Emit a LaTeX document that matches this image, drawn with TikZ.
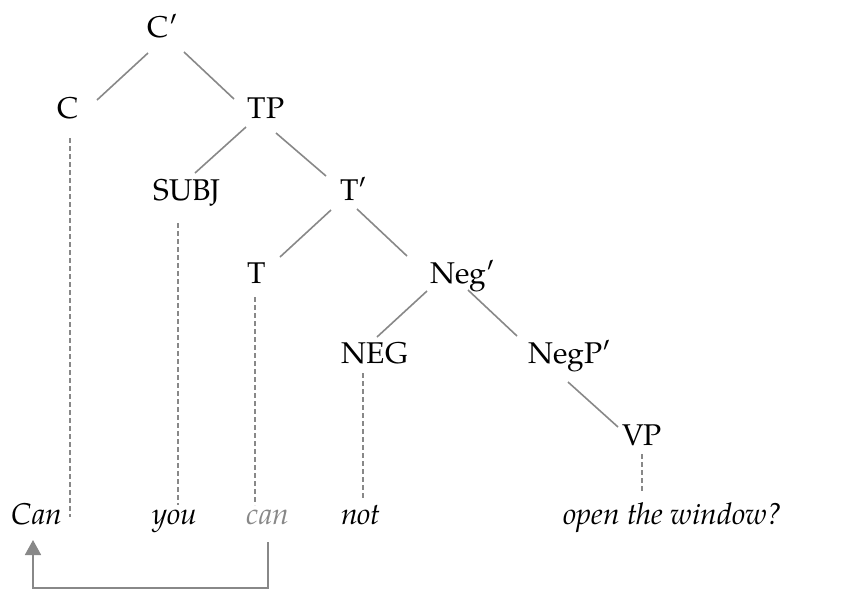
\documentclass[tikz,border=0pt]{standalone}
\usepackage{fontspec}
\setmainfont{TeX Gyre Pagella}
\usetikzlibrary{calc,arrows.meta}
\definecolor{lgray}{HTML}{888888}
\begin{document}
\begin{tikzpicture}[x=1pt,y=-1pt,
  lbl/.style={inner sep=0pt,anchor=base,font=\fontsize{30}{36}\selectfont},
  leaf/.style={lbl,font=\fontsize{30}{36}\selectfont\itshape},
  edge/.style={draw=lgray,line width=1.6pt},
  dline/.style={draw=lgray,line width=1.4pt,dash pattern=on 5pt off 3pt},
  moveline/.style={draw=lgray,line width=1.8pt,-{Triangle[width=16pt,length=15pt]}}]
\path[use as bounding box] (0,0) rectangle (859,590);
% tree nodes
\node[lbl] (Cp) at (163,37) {C′};
\node[lbl] (C) at (68,118) {C};
\node[lbl] (TP) at (266,118) {TP};
\node[lbl] (SUBJ) at (187,200) {SUBJ};
\node[lbl] (Tp) at (354,200) {T′};
\node[lbl] (T) at (257,283) {T};
\node[lbl] (Negp) at (463,283) {Neg′};
\node[lbl] (NEG) at (375,363) {NEG};
\node[lbl] (NegPp) at (570,363) {NegP′};
\node[lbl] (VP) at (642,445) {VP};
% leaves
\node[leaf] (Can) at (37,524) {Can};
\node[leaf] (you) at (175,524) {you};
\node[leaf,text=lgray] (can) at (268,524) {can};
\node[leaf] (not) at (361,524) {not};
\node[leaf] (open) at (673,524) {open the window?};
% edges
\draw[edge] ($(Cp.base)+(-15,16)$) -- ($(C.base)+(29,-18)$);
\draw[edge] ($(Cp.base)+(21,15)$) -- ($(TP.base)+(-32,-19)$);
\draw[edge] ($(TP.base)+(-20,9)$) -- ($(SUBJ.base)+(8,-27)$);
\draw[edge] ($(TP.base)+(10,15)$) -- ($(Tp.base)+(-28,-24)$);
\draw[edge] ($(Tp.base)+(-23,10)$) -- ($(T.base)+(23,-26)$);
\draw[edge] ($(Tp.base)+(3,9)$) -- ($(Negp.base)+(-56,-27)$);
\draw[edge] ($(Negp.base)+(-36,8)$) -- ($(NEG.base)+(2,-26)$);
\draw[edge] ($(Negp.base)+(5,7)$) -- ($(NegPp.base)+(-53,-27)$);
\draw[edge] ($(NegPp.base)+(-2,19)$) -- ($(VP.base)+(-24,-18)$);
% dashed lines to leaves
\draw[dline] ($(C.base)+(2,20)$) -- ($(C.base)+(2,399)$);
\draw[dline] ($(SUBJ.base)+(-9,23)$) -- ($(SUBJ.base)+(-9,305)$);
\draw[dline] ($(T.base)+(-2,14)$) -- ($(T.base)+(-2,222)$);
\draw[dline] ($(NEG.base)+(-12,10)$) -- ($(NEG.base)+(-12,135)$);
\draw[dline] ($(VP.base)+(0,9)$) -- ($(VP.base)+(0,48)$);
% movement arrow
\draw[moveline] ($(can.base)+(0,18)$) -- ++(0,46) -| ($(Can.base)+(-4,16)$);
\end{tikzpicture}
\end{document}
